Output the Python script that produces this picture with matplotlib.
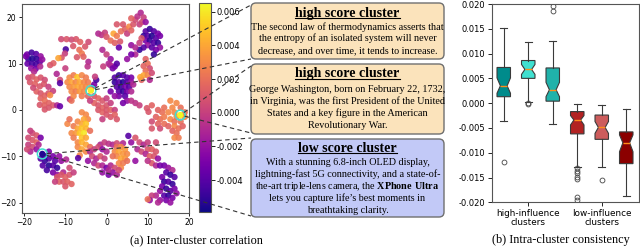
import matplotlib
matplotlib.use("Agg")
import matplotlib.pyplot as plt
import numpy as np
from matplotlib.patches import FancyBboxPatch
from matplotlib.lines import Line2D

plt.rcParams["mathtext.fontset"] = "custom"
plt.rcParams["mathtext.rm"] = "Liberation Serif"
plt.rcParams["mathtext.bf"] = "Liberation Serif:bold"

# ---- scatter data (x, y, value), grouped by blob ----
cl_a = [(-19.3, 12.0, -0.003), (-18.2, 12.4, -0.0045), (-17.1, 12.1, -0.004), (-16.0, 11.6, -0.002),
        (-19.0, 11.0, -0.005), (-18.0, 11.1, -0.0055), (-17.0, 11.0, -0.005), (-16.2, 10.4, -0.004),
        (-19.2, 10.0, -0.0035), (-18.1, 10.0, -0.0045), (-17.1, 9.9, -0.0045), (-18.3, 9.0, -0.002),
        (-17.2, 8.9, -0.003), (-17.6, 8.3, -0.001), (-16.1, 9.4, -0.001), (-19.6, 11.6, -0.003),
        (-15.6, 10.9, -0.002)]
cl_b = [(-19.0, 7.0, 0.0005), (-18.0, 7.2, 0.001), (-17.0, 6.6, 0.0015), (-16.0, 7.0, 0.001),
        (-15.0, 6.5, 0.0005), (-18.6, 6.0, 0.001), (-17.4, 5.6, 0.0015), (-16.2, 5.1, 0.001),
        (-15.2, 5.6, 0.001), (-14.1, 5.0, 0.0), (-17.0, 4.0, 0.0015), (-16.0, 3.6, 0.001),
        (-15.0, 3.1, 0.0015), (-14.1, 3.6, 0.001), (-13.0, 4.1, 0.0), (-16.0, 2.5, 0.0015),
        (-15.0, 2.0, 0.002), (-14.0, 1.5, 0.0015), (-16.2, 1.1, 0.001), (-15.1, 1.0, 0.0015),
        (-13.0, 1.0, 0.001), (-14.0, 0.5, 0.001), (-12.0, 1.0, -0.001), (-11.3, 0.8, -0.0035),
        (-15.0, 0.1, 0.001), (-13.7, 3.2, 0.003), (-17.8, 4.8, 0.0005)]
cl_nw = [(-11.0, 15.3, 0.0005), (-9.7, 15.3, 0.001), (-8.5, 15.2, 0.0005), (-7.4, 15.3, 0.001),
         (-6.4, 14.7, 0.0015), (-5.2, 13.7, 0.001), (-4.4, 14.7, 0.0005), (-6.6, 13.0, 0.002),
         (-6.0, 12.2, 0.0025), (-5.6, 11.5, 0.0015), (-9.9, 13.1, -0.0045), (-8.1, 13.8, 0.001),
         (-10.1, 12.2, 0.0), (-10.9, 11.3, 0.001), (-11.7, 11.2, 0.004), (-12.9, 10.1, 0.0015),
         (-13.7, 9.7, 0.001), (-4.4, 10.4, -0.001), (-4.6, 9.4, -0.0005), (-12.1, 7.8, -0.001),
         (-11.3, 6.5, 0.0005), (-11.3, 5.8, -0.004), (-8.9, 2.3, -0.0005), (-10.0, 9.0, 0.0),
         (-7.2, 11.4, 0.001)]
cl_c = [(-9.0, 7.0, 0.003), (-8.0, 7.5, 0.0025), (-7.1, 7.1, 0.005), (-6.0, 7.5, 0.003),
        (-5.0, 7.0, 0.0025), (-9.5, 6.0, 0.003), (-8.5, 6.0, 0.004), (-7.5, 6.0, 0.003),
        (-6.5, 6.0, 0.004), (-5.5, 6.0, 0.003), (-4.5, 6.0, 0.0025), (-9.0, 5.0, 0.003),
        (-8.0, 5.0, 0.0035), (-7.0, 5.0, 0.004), (-6.0, 5.0, 0.0035), (-5.0, 5.0, 0.003),
        (-3.5, 5.0, 0.002), (-8.5, 4.0, 0.003), (-7.5, 4.0, 0.0025), (-6.5, 4.0, 0.0035),
        (-5.5, 4.0, 0.003), (-8.0, 3.0, 0.003), (-6.0, 3.0, 0.0025), (-4.5, 3.0, 0.0015),
        (-8.5, 2.0, 0.002), (-3.0, 5.5, -0.003), (-2.5, 6.5, -0.0045), (-2.8, 7.2, 0.0)]
cl_d = [(-3.0, 3.0, 0.001), (-2.0, 2.5, 0.0015), (-1.0, 2.0, 0.001), (0.0, 2.5, 0.0),
        (-3.0, 1.5, 0.0015), (-2.0, 1.0, 0.001), (-1.0, 0.5, 0.0015), (0.0, 1.0, 0.001),
        (1.0, 1.5, 0.0), (-2.0, 0.0, 0.001), (-1.0, -0.5, 0.0015), (0.0, 0.0, 0.001),
        (1.0, 0.0, 0.0015), (2.0, 0.0, 0.0), (0.0, -1.0, 0.001), (1.0, -1.5, 0.001),
        (2.0, -1.0, 0.0015), (-1.0, -2.0, 0.0), (2.5, -2.0, 0.001), (-4.0, 2.0, 0.0),
        (-1.0, 13.0, -0.001), (0.0, 12.0, 0.0), (1.0, 11.0, -0.002), (0.5, 10.0, -0.001),
        (-0.8, 9.4, 0.0), (2.0, 9.4, -0.003), (0.9, 9.7, -0.001)]
cl_e = [(2.0, 7.0, -0.004), (3.0, 7.5, -0.005), (4.0, 7.5, -0.004), (5.0, 7.0, -0.004),
        (6.0, 7.0, -0.003), (2.0, 6.0, -0.005), (3.0, 6.0, -0.004), (4.0, 6.0, -0.0055),
        (5.0, 6.0, -0.004), (6.0, 6.0, -0.002), (2.5, 5.0, -0.004), (3.5, 5.0, -0.005),
        (4.5, 5.0, -0.003), (5.5, 5.0, -0.004), (3.0, 4.0, -0.004), (4.0, 4.0, -0.005),
        (5.0, 4.0, -0.003), (6.0, 4.0, -0.001), (3.0, 3.0, -0.003), (4.5, 3.0, -0.004),
        (5.0, 2.0, -0.002), (6.0, 2.0, -0.0005), (7.0, 1.5, -0.0005), (4.0, 1.5, -0.003),
        (2.0, 3.0, -0.002), (1.0, 4.0, -0.003), (6.5, 5.5, -0.001), (2.5, 10.0, -0.004),
        (1.5, 9.0, -0.003)]
cl_f = [(-2.0, 16.5, -0.001), (-1.2, 16.2, -0.0005), (-0.4, 16.7, 0.0), (1.7, 16.5, 0.004),
        (0.0, 15.8, 0.001), (1.0, 15.0, 0.002), (2.0, 14.5, 0.0015), (3.3, 14.8, 0.001),
        (2.5, 16.0, 0.0025), (3.5, 17.0, 0.002), (4.5, 17.5, 0.0015), (5.5, 18.0, 0.003),
        (4.0, 18.5, 0.001), (5.0, 16.5, 0.0), (6.0, 17.2, 0.0015), (6.5, 18.5, 0.001),
        (7.0, 19.5, 0.0005), (8.0, 18.5, 0.0), (7.5, 20.2, -0.0005), (8.3, 21.0, -0.001),
        (9.0, 20.0, 0.0), (8.6, 19.0, 0.0005), (6.0, 19.8, 0.0015), (9.5, 19.0, -0.002),
        (2.5, 18.5, 0.001), (3.0, 13.5, -0.0035)]
cl_g = [(9.5, 17.0, -0.004), (10.5, 17.5, -0.005), (11.5, 17.0, -0.004), (12.5, 16.5, -0.003),
        (9.0, 16.0, -0.005), (10.0, 16.0, -0.004), (11.0, 16.0, -0.0055), (12.0, 15.5, -0.004),
        (13.0, 16.0, -0.003), (9.5, 15.0, -0.003), (10.5, 15.0, -0.005), (11.5, 14.5, -0.004),
        (12.5, 14.5, -0.005), (13.0, 13.5, -0.002), (10.0, 14.0, -0.002), (11.0, 13.5, -0.004),
        (12.0, 13.0, -0.003), (9.0, 13.5, -0.004), (8.0, 13.0, -0.005), (7.0, 12.0, -0.001),
        (6.0, 12.0, -0.003), (5.0, 11.0, -0.002), (11.5, 12.0, -0.005), (8.5, 15.5, 0.001),
        (8.0, 14.5, 0.0), (6.0, 14.0, -0.002), (7.0, 13.5, -0.001)]
cl_h = [(9.5, 11.0, 0.0015), (10.0, 10.0, 0.002), (9.0, 9.5, 0.0015), (10.5, 9.0, 0.0005),
        (9.5, 8.5, 0.002), (9.0, 7.5, 0.004), (10.0, 7.5, 0.003), (10.5, 6.5, -0.001),
        (8.5, 6.5, 0.0015), (11.0, 8.0, 0.0005), (8.2, 7.1, 0.004)]
cl_i = [(15.5, 2.0, 0.003), (17.0, 1.5, 0.003), (18.0, 0.5, 0.002), (16.0, 0.5, 0.003),
        (14.0, 0.5, 0.002), (12.5, 0.0, 0.0015), (13.5, -0.5, 0.002), (15.0, -0.5, 0.003),
        (16.5, -0.5, 0.003), (17.0, -1.5, 0.003), (19.0, -1.5, 0.003), (19.0, -0.5, 0.002),
        (12.0, -1.5, 0.0015), (13.0, -2.0, 0.002), (14.0, -1.5, 0.0025), (15.5, -2.0, 0.003),
        (16.5, -2.5, 0.002), (18.0, -2.5, 0.002), (11.0, -2.5, 0.0005), (12.5, -3.0, 0.0015),
        (14.0, -3.0, 0.002), (15.0, -3.5, 0.0015), (16.5, -3.5, 0.003), (17.5, -4.0, 0.002),
        (16.0, -4.5, 0.0015), (17.0, -5.0, 0.002), (16.5, -6.0, 0.003), (17.5, -6.0, 0.0025),
        (13.0, -4.0, 0.0005), (11.0, -4.0, 0.001), (18.5, -3.5, 0.0015), (10.2, -0.4, 0.001),
        (9.8, 0.4, 0.001), (11.0, 1.0, 0.0015), (8.0, 1.0, 0.0)]
cl_row = [(-1.5, -7.5, -0.001), (-0.5, -7.0, 0.0), (0.5, -7.3, -0.0005), (1.5, -7.5, -0.001),
          (2.5, -7.2, 0.0005), (4.0, -7.2, -0.001), (5.3, -5.6, -0.004), (6.0, -7.0, -0.002),
          (8.0, -7.0, 0.0005), (9.0, -7.5, -0.001), (10.0, -7.0, 0.0), (12.0, -7.0, 0.0005),
          (7.0, -6.0, 0.001)]
cl_l = [(-18.0, -5.0, 0.0005), (-17.0, -5.5, 0.001), (-19.0, -6.0, 0.0005), (-18.0, -6.5, 0.001),
        (-17.0, -7.0, 0.0015), (-19.0, -7.5, 0.0), (-18.0, -8.0, 0.0005), (-17.0, -8.5, -0.002),
        (-16.5, -7.5, -0.001), (-16.0, -6.0, -0.003), (-18.5, -9.0, -0.001), (-18.5, -4.5, 0.0),
        (-19.3, -8.5, 0.0005)]
cl_m = [(-15.0, -10.0, -0.005), (-14.0, -10.5, -0.004), (-13.0, -10.0, -0.003), (-12.5, -11.0, -0.004),
        (-15.0, -11.0, -0.005), (-14.0, -12.0, -0.0055), (-13.0, -12.0, -0.004), (-12.0, -12.5, -0.005),
        (-15.5, -12.0, -0.004), (-14.5, -13.0, -0.0045), (-13.0, -13.5, -0.003), (-12.0, -14.0, -0.002),
        (-11.0, -11.0, -0.002), (-10.5, -13.5, -0.001), (-16.0, -10.5, -0.004), (-11.5, -10.0, -0.002),
        (-14.0, -9.0, -0.003)]
cl_n = [(-12.0, -14.5, 0.001), (-11.0, -14.0, 0.001), (-10.0, -14.5, 0.0015), (-9.0, -14.0, 0.001),
        (-11.5, -15.5, 0.0015), (-10.5, -15.5, 0.001), (-9.5, -15.5, 0.0015), (-10.0, -16.5, 0.001),
        (-8.5, -16.0, 0.0015), (-8.0, -13.5, 0.0), (-12.5, -15.5, 0.0), (-9.0, -12.5, 0.0005)]
cl_k = [(-6.0, -0.5, 0.003), (-5.0, -1.0, 0.003), (-4.5, -2.0, 0.003), (-5.5, -2.0, 0.004),
        (-7.0, -2.5, 0.003), (-6.0, -3.0, 0.004), (-5.0, -3.0, 0.005), (-8.0, -3.5, 0.0025),
        (-7.0, -4.0, 0.004), (-6.0, -4.0, 0.005), (-5.0, -4.0, 0.0045), (-8.5, -5.0, 0.003),
        (-7.5, -5.0, 0.0035), (-6.5, -5.0, 0.005), (-5.5, -5.0, 0.006), (-8.0, -6.0, 0.0025),
        (-6.0, -6.0, 0.005), (-5.0, -6.0, 0.004), (-7.0, -7.0, 0.003), (-6.0, -7.0, 0.0045),
        (-5.0, -7.5, 0.004), (-7.0, -8.0, 0.003), (-6.0, -8.5, 0.004), (-5.0, -9.0, 0.003),
        (-4.0, -8.0, 0.002), (-9.5, -3.0, 0.003), (-9.0, -2.0, 0.002), (-4.0, -4.5, 0.002),
        (-6.5, -9.8, 0.003)]
cl_o = [(-4.0, -9.0, -0.001), (-3.0, -8.5, 0.0), (-2.0, -8.0, 0.0005), (-1.0, -8.5, -0.002),
        (0.0, -9.0, -0.001), (-3.5, -10.0, 0.0005), (-2.5, -10.5, -0.001), (-1.5, -10.0, 0.001),
        (-0.5, -10.5, 0.0), (-3.0, -11.5, -0.001), (-2.0, -12.0, 0.0005), (-1.0, -12.0, -0.001),
        (0.0, -12.5, -0.003), (-1.0, -13.5, -0.002), (0.5, -14.0, -0.003), (-4.5, -11.0, -0.002),
        (-6.9, -10.4, -0.004), (-9.8, -10.7, -0.001)]
cl_q = [(2.5, -8.0, 0.002), (3.5, -8.0, 0.003), (4.5, -8.5, 0.0035), (2.0, -9.0, 0.003),
        (3.0, -9.0, 0.004), (4.0, -9.5, 0.0035), (5.0, -9.5, 0.003), (2.5, -10.0, 0.003),
        (3.5, -10.5, 0.004), (4.5, -10.5, 0.0035), (3.0, -11.5, 0.003), (4.0, -11.5, 0.0025),
        (3.5, -12.5, 0.003), (5.0, -11.0, 0.002), (1.5, -10.0, 0.002)]
cl_r = [(1.0, -12.0, -0.001), (2.0, -12.5, 0.0005), (1.5, -13.5, -0.002), (0.5, -13.0, -0.001),
        (2.5, -14.0, -0.001), (3.0, -13.0, 0.0005), (7.5, -8.5, -0.001), (8.5, -9.0, 0.0005),
        (7.0, -11.0, -0.002)]
cl_s = [(10.0, -8.5, 0.001), (11.0, -8.5, 0.0015), (12.0, -9.0, 0.001), (9.5, -9.5, -0.001),
        (10.5, -10.0, 0.0015), (11.5, -10.0, 0.001), (12.5, -10.5, -0.002), (11.0, -11.5, 0.001),
        (12.0, -12.0, -0.001), (13.0, -12.0, -0.003), (10.0, -11.0, -0.0005)]
cl_t = [(14.0, -12.0, -0.003), (15.0, -12.5, -0.002), (16.0, -13.0, -0.001), (14.5, -13.5, -0.004),
        (15.5, -14.0, -0.005), (13.5, -14.5, -0.003), (16.5, -14.5, -0.004), (14.0, -15.5, -0.005),
        (15.0, -15.5, -0.004), (16.0, -16.0, -0.005), (13.5, -16.5, -0.003), (14.5, -17.0, -0.005),
        (15.5, -17.5, -0.004), (16.5, -17.0, -0.003), (13.0, -17.5, -0.002), (14.0, -18.5, -0.004),
        (15.0, -18.5, -0.005), (16.0, -19.0, -0.003), (14.5, -19.5, -0.003), (15.5, -20.0, -0.002),
        (17.0, -18.0, -0.002), (12.0, -18.5, -0.001), (13.0, -19.5, -0.002), (11.0, -18.5, 0.0),
        (12.5, -20.0, -0.001), (10.5, -19.5, -0.002), (10.0, -19.3, 0.002)]

# circled example points: (x, y, value)
highlight = [(-3.8, 4.2, 0.0062), (17.9, -1.1, 0.0065), (-15.6, -9.5, -0.0055)]

vmin, vmax = -0.0059, 0.0065
cbar_ticks = [-0.004, -0.002, 0.0, 0.002, 0.004, 0.006]

# ---- text boxes ----
box_titles = ["high score cluster", "high score cluster", "low score cluster"]
box_lines = [
    ["The second law of thermodynamics asserts that",
     "the entropy of an isolated system will never",
     "decrease, and over time, it tends to increase."],
    ["George Washington, born on February 22, 1732,",
     "in Virginia, was the first President of the United",
     "States and a key figure in the American",
     "Revolutionary War."],
    ["With a stunning 6.8-inch OLED display,",
     "lightning-fast 5G connectivity, and a state-of-",
     "the-art triple-lens camera, the $\\mathbf{XPhone\\ Ultra}$",
     "lets you capture life\u2019s best moments in",
     "breathtaking clarity."],
]
box_fills = ["#fbe3bb", "#fbe3bb", "#c2c9f7"]

# ---- box plot stats ----
bp_med = [0.0035, 0.0068, 0.0027, -0.0034, -0.0049, -0.0080]
bp_q1 = [0.0013, 0.0050, 0.0004, -0.0062, -0.0073, -0.0122]
bp_q3 = [0.0072, 0.0086, 0.0071, -0.0017, -0.0024, -0.0058]
bp_lo = [-0.0035, 0.0003, -0.0043, -0.0128, -0.0128, -0.0188]
bp_hi = [0.0151, 0.0123, 0.0125, -0.0001, -0.0004, -0.0012]
bp_cilo = [0.0020, 0.0058, 0.0013, -0.0044, -0.0061, -0.0098]
bp_cihi = [0.0051, 0.0078, 0.0042, -0.0025, -0.0037, -0.0064]
bp_fliers = [[-0.0118], [-0.0001, 0.0000], [0.0195, 0.0186],
             [-0.0131, -0.0136, -0.0141, -0.0148, -0.0153, -0.0189, -0.0195],
             [-0.0155], []]
bp_colors = ["#008b8b", "#40e0d0", "#20b2aa", "#b22222", "#cd5c5c", "#8b0000"]
bp_labels = ["high-influence\nclusters", "low-influence\nclusters"]

W, H = 640, 252
fig = plt.figure(figsize=(W / 100, H / 100), dpi=100)


def px(x0, y0, x1, y1):
    # pixel box (top-left origin) -> figure fraction rect
    return [x0 / W, 1 - y1 / H, (x1 - x0) / W, (y1 - y0) / H]


# (a) scatter
ax = fig.add_axes(px(21.7, 4, 189.3, 212.7))
pts = np.array(cl_a + cl_b + cl_nw + cl_c + cl_d + cl_e + cl_f + cl_g + cl_h + cl_i + cl_row
               + cl_l + cl_m + cl_n + cl_k + cl_o + cl_q + cl_r + cl_s + cl_t)
sc = ax.scatter(pts[:, 0], pts[:, 1], c=pts[:, 2], cmap="plasma", vmin=vmin, vmax=vmax,
                s=21, linewidths=0, alpha=0.9)
hl = np.array(highlight)
ax.scatter(hl[:, 0], hl[:, 1], c=hl[:, 2], cmap="plasma", vmin=vmin, vmax=vmax, s=21, linewidths=0)
ax.scatter(hl[:, 0], hl[:, 1], s=50, facecolors="none", edgecolors="#40e0d0", linewidths=1.1)
ax.set_xlim(-20.6, 20.1)
ax.set_ylim(-22.2, 22.9)
ax.set_xticks([-20, -10, 0, 10, 20])
ax.set_yticks([-20, -10, 0, 10, 20])
ax.tick_params(labelsize=5.5, length=2.5, width=0.6, pad=1.2)
for s in ax.spines.values():
    s.set_color("#555555")
    s.set_linewidth(0.8)

cax = fig.add_axes(px(199.3, 3.3, 210.7, 212))
cb = fig.colorbar(sc, cax=cax, ticks=cbar_ticks, format="%.3f")
cb.solids.set_alpha(1)
cb.outline.set_edgecolor("#555555")
cb.outline.set_linewidth(0.8)
cax.tick_params(labelsize=6, length=3, width=0.6, pad=1.5)

# boxes with text
box_rows = [(3, 59), (64, 134), (139, 217)]
title_base = [16.5, 77.5, 151.7]
body_first = [26.7, 89.3, 162.7]
bx0, bx1 = 251, 444
cx = (bx0 + bx1) / 2
tr = fig.dpi_scale_trans
titles = []
for i in range(3):
    y0, y1 = box_rows[i]
    fig.patches.append(FancyBboxPatch((bx0 / 100, (H - y1) / 100), (bx1 - bx0) / 100, (y1 - y0) / 100,
                                      boxstyle="round,pad=0,rounding_size=0.05",
                                      transform=tr, facecolor=box_fills[i], edgecolor="#6f6f6f",
                                      linewidth=1.0, figure=fig))
    t = fig.text(cx / 100, (H - title_base[i]) / 100, box_titles[i], transform=tr, ha="center",
                 va="baseline", family="Liberation Serif", weight="bold", size=10)
    titles.append((t, title_base[i]))
    for j, line in enumerate(box_lines[i]):
        fig.text(cx / 100, (H - body_first[i] - 11.9 * j) / 100, line, transform=tr, ha="center",
                 va="center", family="Liberation Serif", size=7.3)

fig.canvas.draw()
for t, yb in titles:
    bb = t.get_window_extent()
    yl = (H - yb - 1.3) / 100
    fig.add_artist(Line2D([bb.x0 / 100, bb.x1 / 100], [yl, yl], transform=tr, color="black", lw=0.8))

# dashed connectors from circled points to box corners
ends = [[(251, 5), (251, 59)], [(251, 66), (251, 133)], [(251, 138), (251, 216)]]
for (hx, hy, _), pair in zip(highlight, ends):
    p0 = ax.transData.transform((hx, hy))
    for ex, ey in pair:
        p1 = np.array([ex, H - ey])
        d = p1 - p0
        d = d / np.hypot(*d)
        start = p0 + d * 4.5
        fig.add_artist(Line2D([start[0] / 100, p1[0] / 100], [start[1] / 100, p1[1] / 100],
                              transform=tr, color="#333333", lw=0.8, ls=(0, (4, 3))))

# (b) box plot
ax2 = fig.add_axes(px(491.5, 4, 638.5, 202.3))
stats = []
for k in range(6):
    stats.append(dict(med=bp_med[k], q1=bp_q1[k], q3=bp_q3[k], whislo=bp_lo[k], whishi=bp_hi[k],
                      cilo=bp_cilo[k], cihi=bp_cihi[k], fliers=bp_fliers[k]))
res = ax2.bxp(stats, positions=range(1, 7), widths=0.55, shownotches=True, patch_artist=True,
              boxprops=dict(edgecolor="#3a3a3a", linewidth=0.8),
              medianprops=dict(color="#ff8c1a", linewidth=1.0),
              whiskerprops=dict(color="#3a3a3a", linewidth=0.8),
              capprops=dict(color="#3a3a3a", linewidth=0.8),
              flierprops=dict(marker="o", markerfacecolor="none", markeredgecolor="#444444",
                              markersize=3.5, markeredgewidth=0.6))
for patch, col in zip(res["boxes"], bp_colors):
    patch.set_facecolor(col)
ax2.set_xlim(0.5, 6.5)
ax2.set_ylim(-0.02, 0.02)
ax2.set_yticks(np.arange(-0.02, 0.0201, 0.005))
ax2.yaxis.set_major_formatter(matplotlib.ticker.FormatStrFormatter("%.3f"))
ax2.set_xticks([2, 5])
ax2.set_xticklabels(bp_labels, fontsize=6.4, linespacing=1.0)
ax2.tick_params(axis="y", labelsize=6, length=3, width=0.6, pad=1.5)
ax2.tick_params(axis="x", length=3, width=0.6, pad=2)
for s in ax2.spines.values():
    s.set_color("#555555")
    s.set_linewidth(0.8)

fig.text(196 / W, 1 - 240 / H, "(a) Inter-cluster correlation", ha="center", va="center",
         family="Liberation Serif", size=8.8)
fig.text(561 / W, 1 - 240 / H, "(b) Intra-cluster consistency", ha="center", va="center",
         family="Liberation Serif", size=8.8)

fig.savefig("out.png", dpi=100)
